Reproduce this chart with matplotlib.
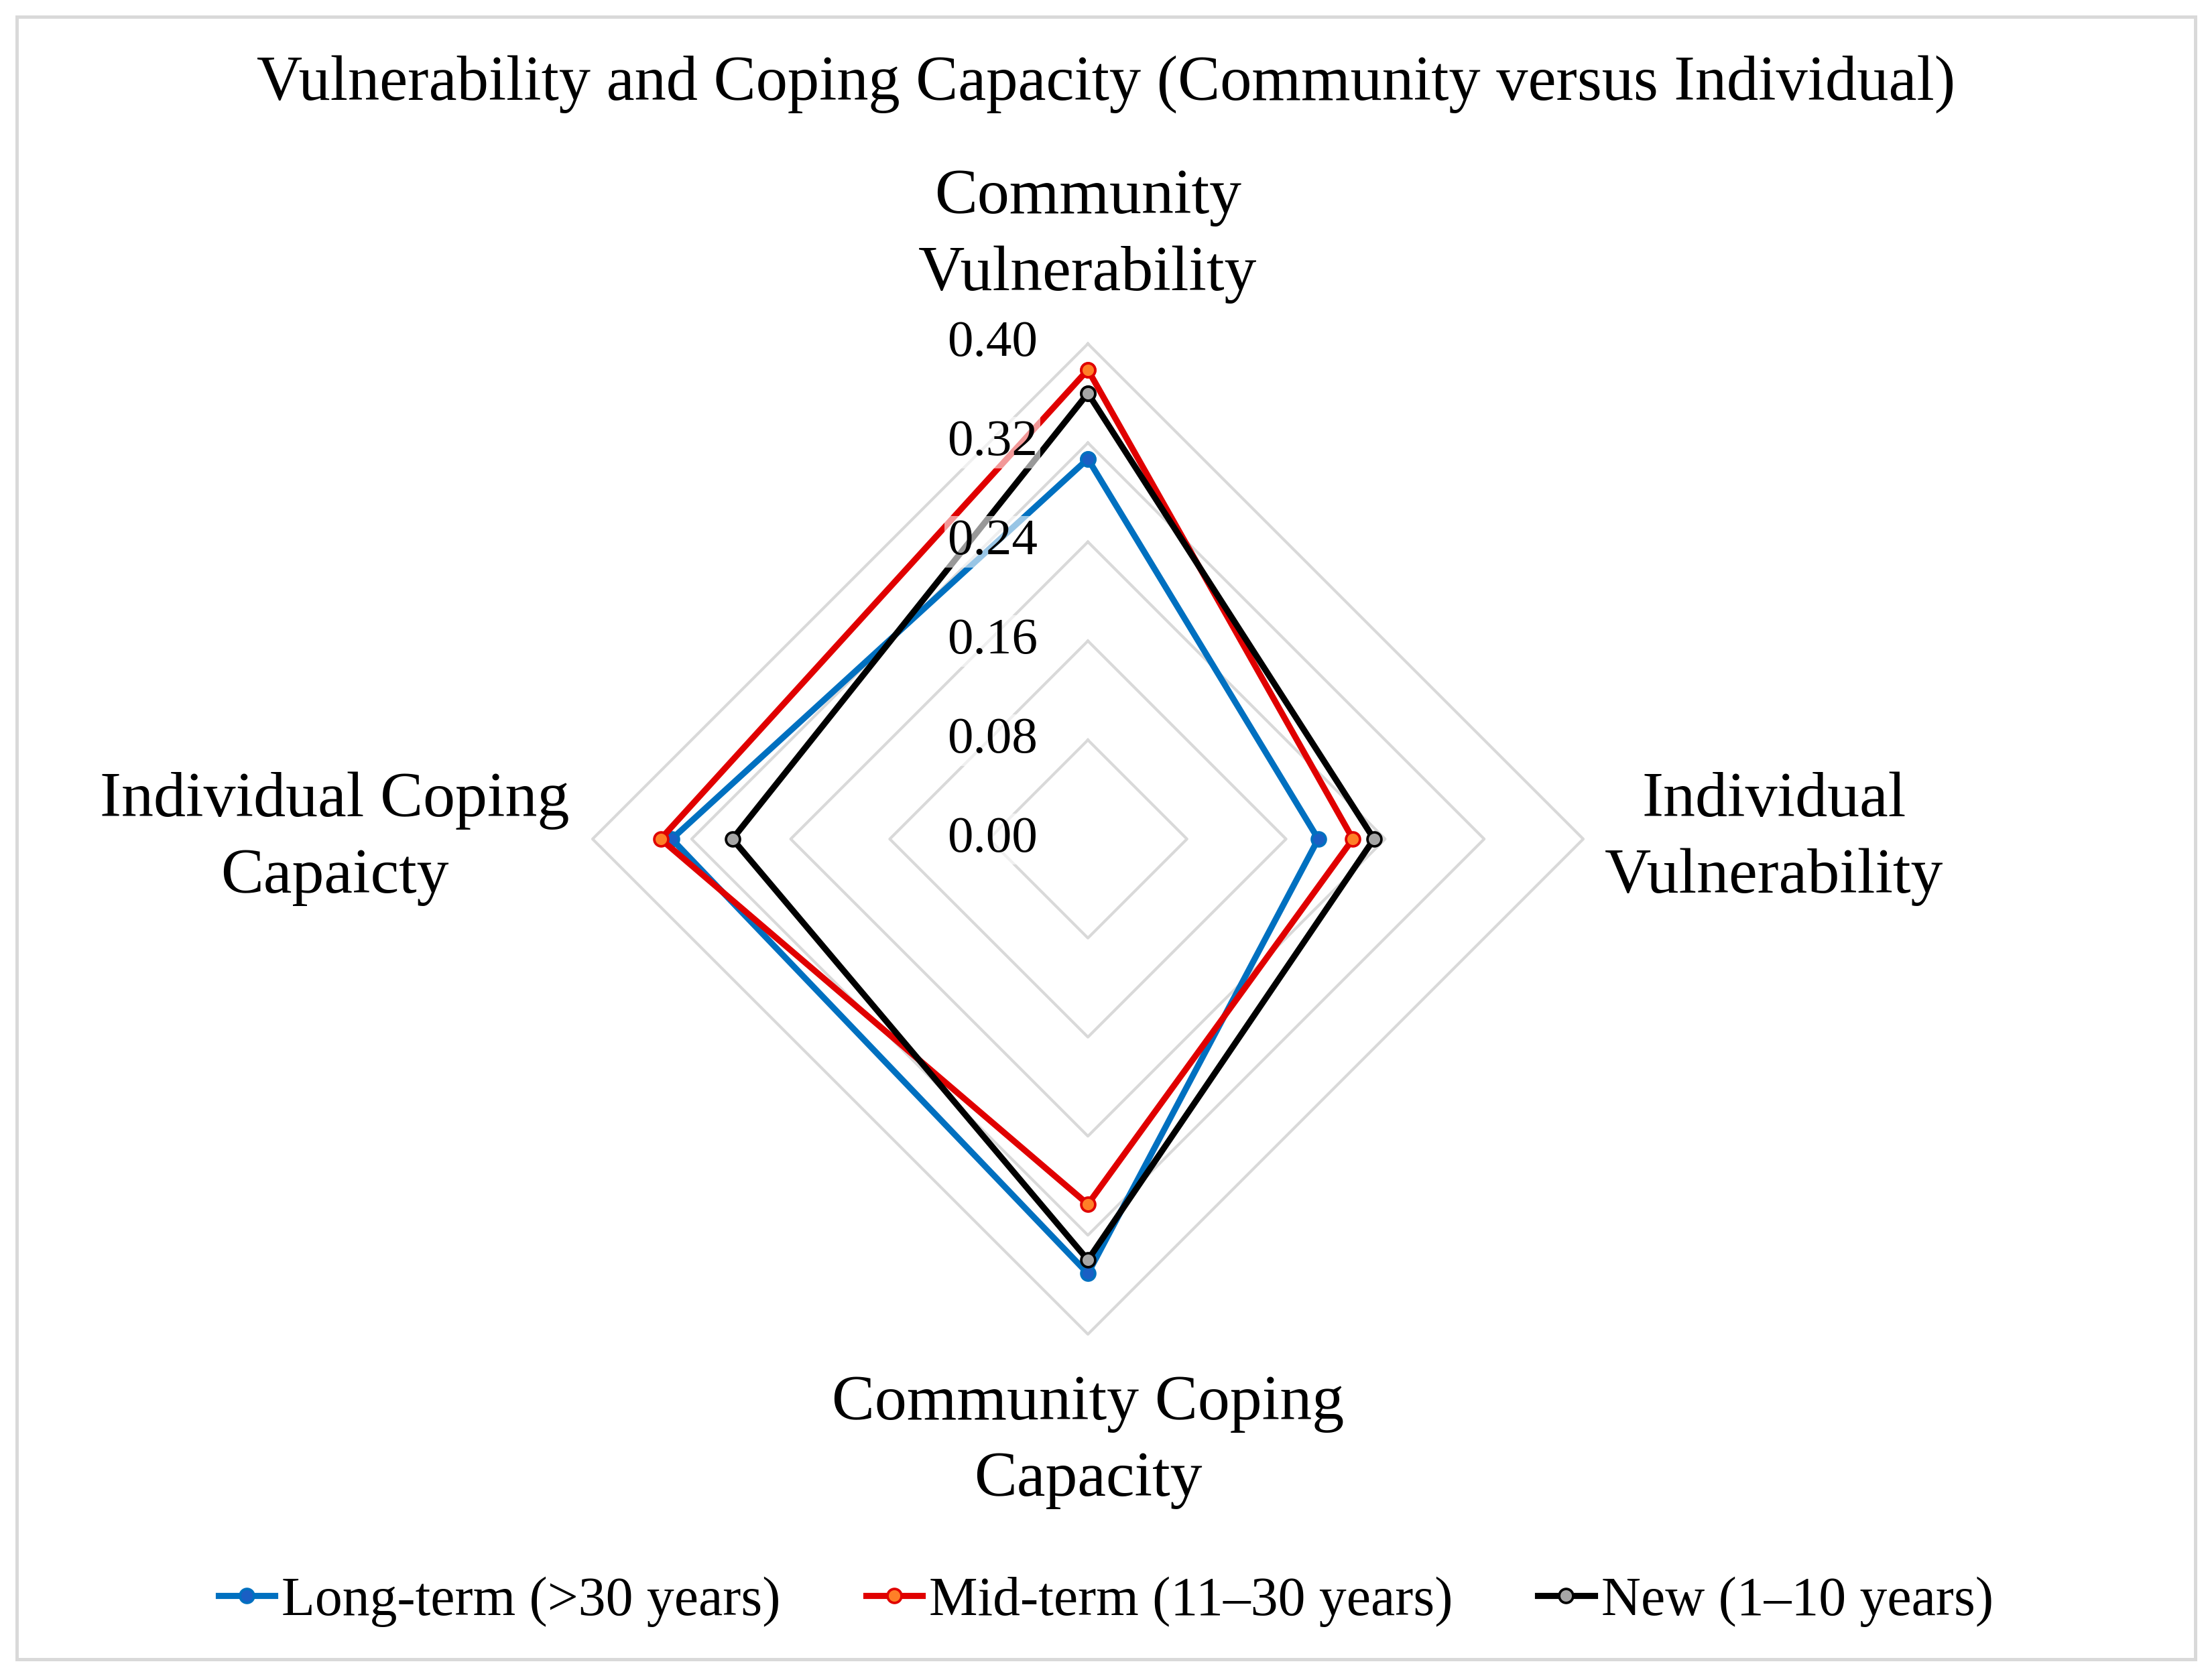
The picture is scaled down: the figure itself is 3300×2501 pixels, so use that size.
import numpy as np
import matplotlib.pyplot as plt
from matplotlib.patches import Rectangle

plt.rcParams['font.family'] = ['Liberation Serif', 'DejaVu Serif']

categories = ['Community\nVulnerability', 'Individual\nVulnerability',
              'Community Coping\nCapacity', 'Individual Coping\nCapaicty']
long_term = [0.307, 0.186, 0.351, 0.336]
mid_term = [0.379, 0.214, 0.295, 0.345]
new_res = [0.360, 0.231, 0.340, 0.287]
series_names = ['Long-term (>30 years)', 'Mid-term (11\u201330 years)', 'New (1\u201310 years)']
ticks = [0.00, 0.08, 0.16, 0.24, 0.32, 0.40]

W, H = 3300, 2501
cx, cy = 1623, 1252          # centre in pixels
scale = 739 / 0.40           # pixels per unit

fig = plt.figure(figsize=(W / 300, H / 300), dpi=300)
ax = fig.add_axes([0, 0, 1, 1])
ax.set_xlim(-cx / scale, (W - cx) / scale)
ax.set_ylim(-(H - cy) / scale, cy / scale)
ax.axis('off')

# axis directions: top, right, bottom, left
ang = np.deg2rad([90, 0, -90, 180])
cosA, sinA = np.cos(ang), np.sin(ang)

# grid diamonds
for t in ticks[1:]:
    gx = np.append(t * cosA, t * cosA[0])
    gy = np.append(t * sinA, t * sinA[0])
    ax.plot(gx, gy, color='#D9D9D9', lw=1.0, zorder=1)

styles = [
    dict(color='#0070C0', mfc='#1A5FC4', mec='#0070C0'),
    dict(color='#E00000', mfc='#FF7F27', mec='#E00000'),
    dict(color='#000000', mfc='#A6A6A6', mec='#000000'),
]
handles = []
for vals, name, st in zip([long_term, mid_term, new_res], series_names, styles):
    v = np.array(vals)
    xs = np.append(v * cosA, v[0] * cosA[0])
    ys = np.append(v * sinA, v[0] * sinA[0])
    ln, = ax.plot(xs, ys, color=st['color'], lw=2.2, marker='o', ms=5,
                  mfc=st['mfc'], mec=st['mec'], mew=0.9, zorder=3, label=name)
    handles.append(ln)

# tick labels with semi-transparent white box
for t in ticks:
    ax.text(-0.077, t, f'{t:.2f}', ha='center', va='center', fontsize=18.5,
            zorder=5, bbox=dict(facecolor='white', alpha=0.6, edgecolor='none', pad=1))

# category labels
rmax = 0.40
lab = dict(ha='center', va='center', fontsize=23, linespacing=1.42)
ax.text(0, rmax + 0.087, categories[0], **lab)
ax.text(rmax + 0.154, 0, categories[1], **lab)
ax.text(0, -(rmax + 0.087), categories[2], **lab)
ax.text(-(rmax + 0.208), 0, categories[3], **lab)

fig.text(0.5, 1 - 126 / H, 'Vulnerability and Coping Capacity (Community versus Individual)',
         ha='center', va='center', fontsize=22.7)

fig.legend(handles=handles, loc='center', bbox_to_anchor=(0.5, 1 - 2390 / H), ncol=3,
           frameon=False, fontsize=19.6, handlelength=1.03, handletextpad=0.13,
           columnspacing=1.55, numpoints=1)

fig.add_artist(Rectangle((25 / W, 25 / H), (W - 50) / W, (H - 50) / H,
                         transform=fig.transFigure, fill=False,
                         edgecolor='#D9D9D9', lw=1.2))

fig.savefig('out.png', dpi=300)
